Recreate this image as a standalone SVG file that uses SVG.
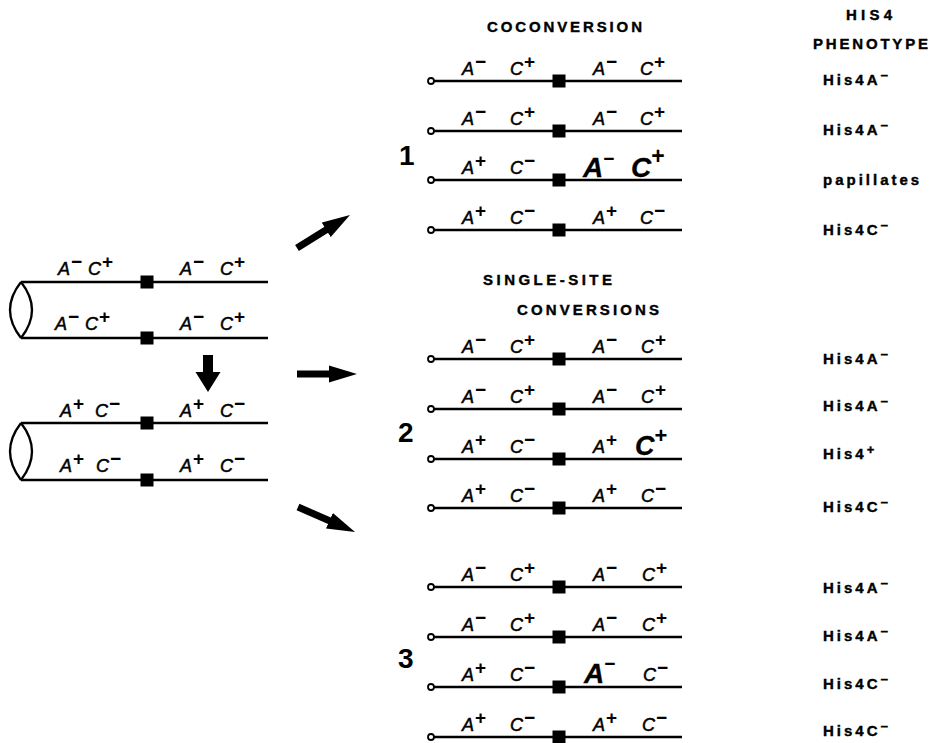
<svg xmlns="http://www.w3.org/2000/svg" width="932" height="743" viewBox="0 0 932 743">
  <style>
    .ln { stroke: #000; stroke-width: 2.3; fill: none; }
    .cen { fill: #000; }
    .tel { fill: #fff; stroke: #000; stroke-width: 1.8; }
    .al { font-family: "Liberation Sans", Arial, sans-serif; font-style: italic; font-size: 18px; fill: #000; stroke: #000; stroke-width: 0.5; }
    .big { font-size: 28px; font-weight: bold; stroke-width: 0.3; }
    .sp { font-style: normal; font-weight: bold; font-size: 19px; stroke: none; }
    .hd { font-family: "Liberation Sans", Arial, sans-serif; font-weight: bold; font-size: 15px; fill: #000; stroke: #000; stroke-width: 0.4; }
    .ph { font-family: "Liberation Sans", Arial, sans-serif; font-weight: bold; font-size: 15px; letter-spacing: 3px; fill: #000; stroke: #000; stroke-width: 0.4; }
    .phs { font-size: 13px; letter-spacing: 0; }
    .num { font-family: "Liberation Sans", Arial, sans-serif; font-weight: bold; font-size: 28px; fill: #000; }
    .arr { stroke: #000; stroke-width: 7; fill: none; }
  </style>
  <defs>
    <marker id="head" markerUnits="userSpaceOnUse" markerWidth="30" markerHeight="18" refX="2" refY="9" orient="auto">
      <path d="M0,0.5 L28,9 L0,17.5 Z" fill="#000"/>
    </marker>
    <!-- one chromatid of the product tetrad: telomere circle, arm, centromere -->
    <g id="chrom">
      <line class="ln" x1="434" y1="0" x2="682" y2="0"/>
      <circle class="tel" cx="431" cy="0" r="3"/>
      <rect class="cen" x="552.5" y="-6.5" width="13" height="13"/>
    </g>
    <!-- one chromatid of the parental duplex -->
    <g id="pchrom">
      <line class="ln" x1="21" y1="0" x2="268" y2="0"/>
      <rect class="cen" x="140.5" y="-6.5" width="13" height="13"/>
    </g>
  </defs>

  <!-- parental homologues, before the event -->
  <g id="parent-top">
    <use href="#pchrom" y="282"/>
    <use href="#pchrom" y="338"/>
    <path class="ln" d="M21,282 Q-1,310 21,338 M21,282 Q43,310 21,338"/>
    <text class="al" x="58" y="275">A<tspan class="sp" dx="1" dy="-7">−</tspan></text>
    <text class="al" x="88" y="275">C<tspan class="sp" dx="1" dy="-7">+</tspan></text>
    <text class="al" x="180" y="275">A<tspan class="sp" dx="1" dy="-7">−</tspan></text>
    <text class="al" x="220" y="275">C<tspan class="sp" dx="1" dy="-7">+</tspan></text>
    <text class="al" x="55" y="330">A<tspan class="sp" dx="1" dy="-7">−</tspan></text>
    <text class="al" x="85" y="330">C<tspan class="sp" dx="1" dy="-7">+</tspan></text>
    <text class="al" x="180" y="330">A<tspan class="sp" dx="1" dy="-7">−</tspan></text>
    <text class="al" x="220" y="330">C<tspan class="sp" dx="1" dy="-7">+</tspan></text>
  </g>

  <g id="parent-bottom">
    <use href="#pchrom" y="423"/>
    <use href="#pchrom" y="480"/>
    <path class="ln" d="M21,423 Q-1,451.5 21,480 M21,423 Q43,451.5 21,480"/>
    <text class="al" x="60" y="417">A<tspan class="sp" dx="1" dy="-7">+</tspan></text>
    <text class="al" x="95" y="417">C<tspan class="sp" dx="1" dy="-7">−</tspan></text>
    <text class="al" x="180" y="417">A<tspan class="sp" dx="1" dy="-7">+</tspan></text>
    <text class="al" x="220" y="417">C<tspan class="sp" dx="1" dy="-7">−</tspan></text>
    <text class="al" x="60" y="472">A<tspan class="sp" dx="1" dy="-7">+</tspan></text>
    <text class="al" x="96" y="472">C<tspan class="sp" dx="1" dy="-7">−</tspan></text>
    <text class="al" x="180" y="472">A<tspan class="sp" dx="1" dy="-7">+</tspan></text>
    <text class="al" x="220" y="472">C<tspan class="sp" dx="1" dy="-7">−</tspan></text>
  </g>

  <!-- arrows -->
  <g id="connectors">
    <polygon points="203,355 213,355 213,372 220.5,372 208,392 195.5,372 203,372" fill="#000"/>
    <line class="arr" x1="297" y1="248" x2="327.9" y2="228.8" marker-end="url(#head)"/>
    <line class="arr" x1="297" y1="374" x2="331" y2="374" marker-end="url(#head)"/>
    <line class="arr" x1="298" y1="507" x2="331.2" y2="521.5" marker-end="url(#head)"/>
  </g>

  <!-- column headings -->
  <g id="headings">
    <text class="hd" x="487" y="32" textLength="155" lengthAdjust="spacing">COCONVERSION</text>
    <text class="hd" x="483" y="285" textLength="129" lengthAdjust="spacing">SINGLE-SITE</text>
    <text class="hd" x="517" y="315" textLength="142" lengthAdjust="spacing">CONVERSIONS</text>
    <text class="hd" x="846" y="20" textLength="46" lengthAdjust="spacing">HIS4</text>
    <text class="hd" x="813" y="49" textLength="115" lengthAdjust="spacing">PHENOTYPE</text>
  </g>

  <!-- class 1: coconversion -->
  <g id="tetrad-1">
    <text class="num" x="399" y="165">1</text>
    <use href="#chrom" y="81"/>
    <use href="#chrom" y="131"/>
    <use href="#chrom" y="180"/>
    <use href="#chrom" y="230"/>
    <text class="al" x="462" y="75">A<tspan class="sp" dx="1" dy="-7">−</tspan></text>
    <text class="al" x="510" y="75">C<tspan class="sp" dx="1" dy="-7">+</tspan></text>
    <text class="al" x="593" y="75">A<tspan class="sp" dx="1" dy="-7">−</tspan></text>
    <text class="al" x="640" y="75">C<tspan class="sp" dx="1" dy="-7">+</tspan></text>
    <text class="al" x="462" y="125">A<tspan class="sp" dx="1" dy="-7">−</tspan></text>
    <text class="al" x="510" y="125">C<tspan class="sp" dx="1" dy="-7">+</tspan></text>
    <text class="al" x="593" y="125">A<tspan class="sp" dx="1" dy="-7">−</tspan></text>
    <text class="al" x="640" y="125">C<tspan class="sp" dx="1" dy="-7">+</tspan></text>
    <text class="al" x="462" y="174">A<tspan class="sp" dx="1" dy="-7">+</tspan></text>
    <text class="al" x="510" y="174">C<tspan class="sp" dx="1" dy="-7">−</tspan></text>
    <text class="al big" x="583" y="177">A<tspan class="sp" dx="0" dy="-12">−</tspan></text>
    <text class="al big" x="631" y="177">C<tspan class="sp" style="font-size:23px" dx="0" dy="-13">+</tspan></text>
    <text class="al" x="462" y="224">A<tspan class="sp" dx="1" dy="-7">+</tspan></text>
    <text class="al" x="510" y="224">C<tspan class="sp" dx="1" dy="-7">−</tspan></text>
    <text class="al" x="593" y="224">A<tspan class="sp" dx="1" dy="-7">+</tspan></text>
    <text class="al" x="640" y="224">C<tspan class="sp" dx="1" dy="-7">−</tspan></text>
  </g>

  <!-- class 2: single-site conversion of C -->
  <g id="tetrad-2">
    <text class="num" x="398" y="442">2</text>
    <use href="#chrom" y="359"/>
    <use href="#chrom" y="409"/>
    <use href="#chrom" y="459"/>
    <use href="#chrom" y="508"/>
    <text class="al" x="462" y="353">A<tspan class="sp" dx="1" dy="-7">−</tspan></text>
    <text class="al" x="510" y="353">C<tspan class="sp" dx="1" dy="-7">+</tspan></text>
    <text class="al" x="593" y="353">A<tspan class="sp" dx="1" dy="-7">−</tspan></text>
    <text class="al" x="641" y="353">C<tspan class="sp" dx="1" dy="-7">+</tspan></text>
    <text class="al" x="462" y="403">A<tspan class="sp" dx="1" dy="-7">−</tspan></text>
    <text class="al" x="510" y="403">C<tspan class="sp" dx="1" dy="-7">+</tspan></text>
    <text class="al" x="593" y="403">A<tspan class="sp" dx="1" dy="-7">−</tspan></text>
    <text class="al" x="641" y="403">C<tspan class="sp" dx="1" dy="-7">+</tspan></text>
    <text class="al" x="462" y="453">A<tspan class="sp" dx="1" dy="-7">+</tspan></text>
    <text class="al" x="510" y="453">C<tspan class="sp" dx="1" dy="-7">−</tspan></text>
    <text class="al" x="593" y="453">A<tspan class="sp" dx="1" dy="-7">+</tspan></text>
    <text class="al big" x="635" y="455" style="font-size:27px">C<tspan class="sp" style="font-size:22px" dx="0" dy="-12">+</tspan></text>
    <text class="al" x="462" y="502">A<tspan class="sp" dx="1" dy="-7">+</tspan></text>
    <text class="al" x="510" y="502">C<tspan class="sp" dx="1" dy="-7">−</tspan></text>
    <text class="al" x="593" y="502">A<tspan class="sp" dx="1" dy="-7">+</tspan></text>
    <text class="al" x="641" y="502">C<tspan class="sp" dx="1" dy="-7">−</tspan></text>
  </g>

  <!-- class 3: single-site conversion of A -->
  <g id="tetrad-3">
    <text class="num" x="398" y="668">3</text>
    <use href="#chrom" y="587"/>
    <use href="#chrom" y="637"/>
    <use href="#chrom" y="687"/>
    <use href="#chrom" y="737"/>
    <text class="al" x="462" y="581">A<tspan class="sp" dx="1" dy="-7">−</tspan></text>
    <text class="al" x="510" y="581">C<tspan class="sp" dx="1" dy="-7">+</tspan></text>
    <text class="al" x="593" y="581">A<tspan class="sp" dx="1" dy="-7">−</tspan></text>
    <text class="al" x="642" y="581">C<tspan class="sp" dx="1" dy="-7">+</tspan></text>
    <text class="al" x="462" y="631">A<tspan class="sp" dx="1" dy="-7">−</tspan></text>
    <text class="al" x="510" y="631">C<tspan class="sp" dx="1" dy="-7">+</tspan></text>
    <text class="al" x="593" y="631">A<tspan class="sp" dx="1" dy="-7">−</tspan></text>
    <text class="al" x="642" y="631">C<tspan class="sp" dx="1" dy="-7">+</tspan></text>
    <text class="al" x="462" y="681">A<tspan class="sp" dx="1" dy="-7">+</tspan></text>
    <text class="al" x="510" y="681">C<tspan class="sp" dx="1" dy="-7">−</tspan></text>
    <text class="al big" x="584" y="683">A<tspan class="sp" dx="0" dy="-13">−</tspan></text>
    <text class="al" x="643" y="681">C<tspan class="sp" dx="1" dy="-7">−</tspan></text>
    <text class="al" x="462" y="731">A<tspan class="sp" dx="1" dy="-7">+</tspan></text>
    <text class="al" x="510" y="731">C<tspan class="sp" dx="1" dy="-7">−</tspan></text>
    <text class="al" x="593" y="731">A<tspan class="sp" dx="1" dy="-7">+</tspan></text>
    <text class="al" x="642" y="731">C<tspan class="sp" dx="1" dy="-7">−</tspan></text>
  </g>

  <!-- HIS4 phenotypes -->
  <g id="phenotypes">
    <text class="ph" x="823" y="85">His4A<tspan class="phs" dy="-5">−</tspan></text>
    <text class="ph" x="823" y="135">His4A<tspan class="phs" dy="-5">−</tspan></text>
    <text class="ph" x="823" y="185">papillates</text>
    <text class="ph" x="823" y="235">His4C<tspan class="phs" dy="-5">−</tspan></text>
    <text class="ph" x="823" y="364">His4A<tspan class="phs" dy="-5">−</tspan></text>
    <text class="ph" x="823" y="411">His4A<tspan class="phs" dy="-5">−</tspan></text>
    <text class="ph" x="823" y="459">His4<tspan class="phs" dy="-5">+</tspan></text>
    <text class="ph" x="823" y="512">His4C<tspan class="phs" dy="-5">−</tspan></text>
    <text class="ph" x="823" y="593">His4A<tspan class="phs" dy="-5">−</tspan></text>
    <text class="ph" x="823" y="641">His4A<tspan class="phs" dy="-5">−</tspan></text>
    <text class="ph" x="823" y="689">His4C<tspan class="phs" dy="-5">−</tspan></text>
    <text class="ph" x="823" y="736">His4C<tspan class="phs" dy="-5">−</tspan></text>
  </g>
</svg>
